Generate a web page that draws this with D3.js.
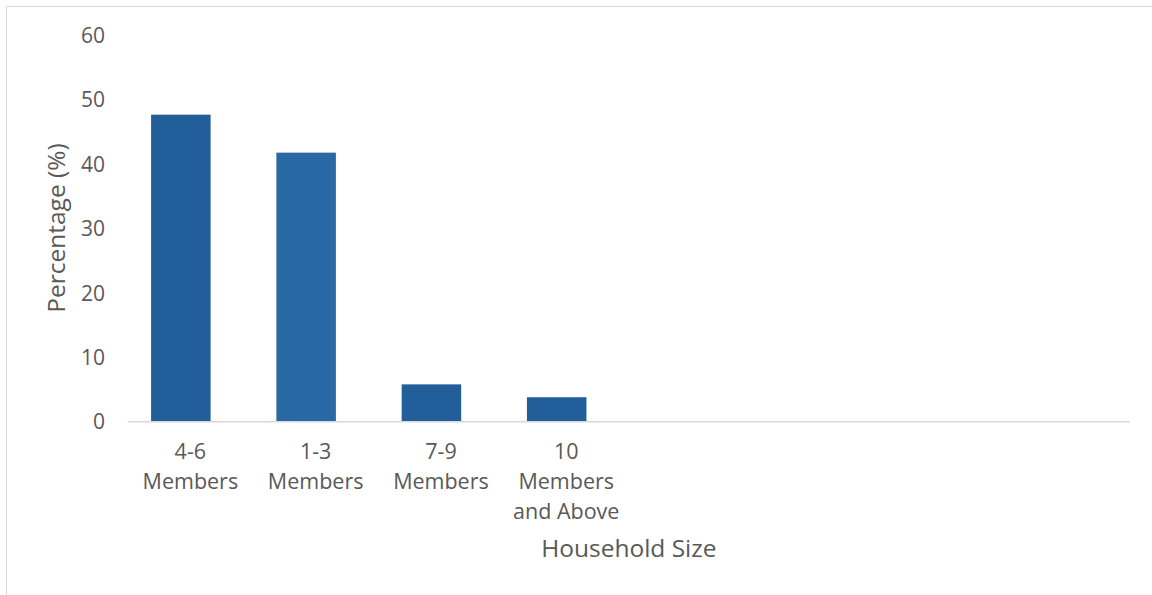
<!DOCTYPE html>
<html>
<head>
<meta charset="utf-8">
<script src="https://cdn.jsdelivr.net/npm/d3@7"></script>
<style>
  html, body { margin: 0; padding: 0; background: #ffffff; }
  svg { display: block; }
  text { font-family: "Open Sans", "Noto Sans", sans-serif; fill: #595959; }
</style>
</head>
<body>
<svg id="chart" width="1152" height="595"></svg>
<script>
// ---- data ----
const categories = ["4-6 Members", "1-3 Members", "7-9 Members", "10 Members and Above"];
const categoryLines = [["4-6", "Members"], ["1-3", "Members"], ["7-9", "Members"], ["10", "Members", "and Above"]];
const values = [47.7, 41.8, 5.8, 3.8];
const barColors = ["#215E9A", "#2868A4", "#215E9A", "#215E9A"];
const slotCount = 8; // the category axis has room for 8 slots, only 4 are filled
const yTicks = [0, 10, 20, 30, 40, 50, 60];
const yTitle = "Percentage (%)";
const xTitle = "Household Size";

// ---- layout ----
const W = 1152, H = 595;
const plot = { left: 127.7, right: 1130, top: 35.5, bottom: 421.7 };

const svg = d3.select("#chart");

// outer frame (left + top edges visible)
svg.append("path")
  .attr("d", `M6.5,${H} L6.5,6.5 L${W},6.5`)
  .attr("fill", "none")
  .attr("stroke", "#d9d9d9")
  .attr("stroke-width", 1);

const slots = d3.range(slotCount);
const x = d3.scaleBand().domain(slots).range([plot.left, plot.right]).padding(0);
const xBar = d3.scaleBand().domain(slots)
  .range([plot.left - 9.5, plot.right - 9.5])
  .paddingInner(0.525).paddingOuter(0.2625);
const y = d3.scaleLinear().domain([0, 60]).range([plot.bottom, plot.top]);

// bars
svg.append("g").selectAll("rect")
  .data(values)
  .join("rect")
  .attr("x", (d, i) => xBar(i))
  .attr("width", xBar.bandwidth())
  .attr("y", d => y(d))
  .attr("height", d => y(0) - y(d))
  .attr("fill", (d, i) => barColors[i]);

// baseline axis
svg.append("line")
  .attr("x1", plot.left).attr("x2", plot.right)
  .attr("y1", y(0)).attr("y2", y(0))
  .attr("stroke", "#d9d9d9").attr("stroke-width", 1.5);

// y tick labels
svg.append("g").selectAll("text")
  .data(yTicks)
  .join("text")
  .attr("x", 105)
  .attr("y", d => y(d))
  .attr("dy", "0.36em")
  .attr("text-anchor", "end")
  .style("font-size", "21px")
  .text(d => d);

// x tick labels
const xl = svg.append("g").selectAll("text")
  .data(categoryLines)
  .join("text")
  .attr("text-anchor", "middle")
  .style("font-size", "21.5px")
  .attr("transform", (d, i) => `translate(${x(i) + x.bandwidth() / 2},459)`);
xl.selectAll("tspan")
  .data(d => d)
  .join("tspan")
  .attr("x", 0)
  .attr("y", (d, j) => j * 30)
  .text(d => d);

// axis titles
svg.append("text")
  .attr("transform", `translate(65,228) rotate(-90)`)
  .attr("text-anchor", "middle")
  .style("font-size", "24.5px")
  .text(yTitle);

svg.append("text")
  .attr("x", (plot.left + plot.right) / 2)
  .attr("y", 557)
  .attr("text-anchor", "middle")
  .style("font-size", "24.5px")
  .text(xTitle);
</script>
</body>
</html>
